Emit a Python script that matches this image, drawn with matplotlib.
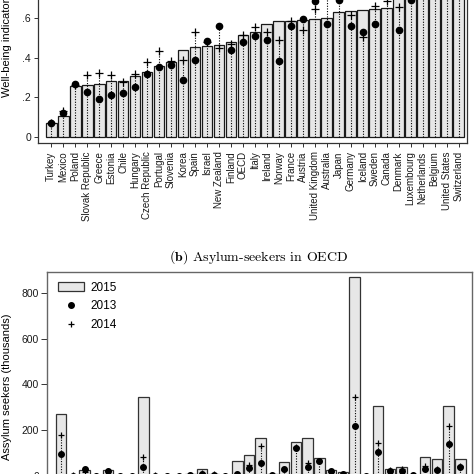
import numpy as np
import matplotlib
matplotlib.use("Agg")
import matplotlib.pyplot as plt

plt.rcParams['font.family'] = ['Liberation Sans', 'DejaVu Sans']
plt.rcParams['mathtext.fontset'] = 'cm'

countries = ["Turkey", "Mexico", "Poland", "Slovak Republic", "Greece", "Estonia",
             "Chile", "Hungary", "Czech Republic", "Portugal", "Slovenia", "Korea",
             "Spain", "Israel", "New Zealand", "Finland", "OECD", "Italy", "Ireland",
             "Norway", "France", "Austria", "United Kingdom", "Australia", "Japan",
             "Germany", "Iceland", "Sweden", "Canada", "Denmark", "Luxembourg",
             "Netherlands", "Belgium", "United States", "Switzerland"]

# (a) well-being indicator
wb_2015 = [0.069, 0.104, 0.257, 0.262, 0.268, 0.280, 0.282, 0.306, 0.326, 0.356,
           0.377, 0.439, 0.453, 0.459, 0.466, 0.481, 0.513, 0.528, 0.569, 0.586,
           0.588, 0.589, 0.597, 0.603, 0.633, 0.638, 0.641, 0.645, 0.650, 0.70,
           0.72, 0.74, 0.76, 0.80, 0.85]
wb_2013 = [0.070, 0.118, 0.265, 0.226, 0.191, 0.211, 0.223, 0.250, 0.316, 0.353,
           0.365, 0.286, 0.387, 0.486, 0.562, 0.441, 0.479, 0.511, 0.491, 0.383,
           0.562, 0.596, 0.689, 0.571, 0.690, 0.560, 0.528, 0.569, 0.74, 0.540,
           0.690, 0.76, 0.75, 0.78, 0.86]
wb_2014 = [0.068, 0.128, 0.262, 0.312, 0.322, 0.311, 0.277, 0.317, 0.377, 0.434,
           0.385, 0.388, 0.529, 0.480, 0.447, 0.471, 0.516, 0.554, 0.528, 0.491,
           0.587, 0.539, 0.647, 0.72, 0.73, 0.615, 0.506, 0.660, 0.689, 0.655,
           0.73, 0.75, 0.77, 0.79, 0.84]

# (b) asylum seekers, thousands
asy_2015 = [268, 3.5, 25, 0.5, 24, 0.5, 0.3, 346, 2.5, 1.8, 0.5, 7, 28, 6, 0.8,
            65, 93, 164, 6.6, 60, 146, 165, 78, 25, 15, 870, 0.7, 305, 30, 37,
            5, 83, 74, 305, 72]
asy_2013 = [94, 1, 31, 0.4, 19, 0.2, 0.3, 37, 1, 0.5, 0.3, 3, 9, 4, 0.6,
            6.5, 36, 54, 1.9, 28, 123, 40, 63, 22, 6, 219, 0.3, 105, 21, 20,
            2, 28, 27, 138, 40]
asy_2014 = [178, 2, 16, 0.6, 19, 0.3, 0.4, 81, 2, 0.9, 0.7, 5, 12, 6, 0.6,
            7.5, 48, 130, 2.9, 24, 126, 57, 66, 18, 10, 343, 0.35, 145, 27, 30,
            2.3, 43, 28, 219, 44]

W = H = 474.0
fig = plt.figure(figsize=(4.74, 4.74), dpi=100)


def px_axes(left, right, top, bottom):
    # pixel box (from top-left) -> figure fraction
    return fig.add_axes([left / W, (H - bottom) / H, (right - left) / W, (bottom - top) / H])


def draw_panel(ax, bars, dots, plus, ms_dot, ms_plus, edge):
    x = np.arange(len(bars))
    b = ax.bar(x, bars, width=0.9, color='#e7e7e7', edgecolor=edge, linewidth=0.9, zorder=1)
    top = np.maximum(np.array(dots), np.array(plus))
    ax.vlines(x, 0, top, colors='k', linewidth=0.8, linestyles=(0, (1, 1.4)), zorder=2)
    d, = ax.plot(x, dots, 'o', color='k', ms=ms_dot, zorder=3)
    p, = ax.plot(x, plus, '+', color='k', ms=ms_plus, mew=0.9, zorder=3)
    ax.tick_params(direction='out', width=0.7, colors='#333333',
                   labelcolor='#1a1a1a', labelsize=7.5, pad=2)
    return x, b, d, p


# top panel
ax1 = px_axes(38, 467, -53, 143)
x, _, _, _ = draw_panel(ax1, wb_2015, wb_2013, wb_2014, 4.5, 6, '#1a1a1a')
for s in ax1.spines.values():
    s.set_color('#333333')
    s.set_linewidth(0.9)
ax1.set_xlim(-1.1, 34.7)
ax1.set_ylim(-0.032, 0.96)
ax1.set_yticks([0, 0.2, 0.4, 0.6, 0.8])
ax1.set_yticklabels(['0', '.2', '.4', '.6', '.8'])
ax1.set_xticks(x)
ax1.set_xticklabels(countries, rotation=90, fontsize=7)
ax1.tick_params(length=3)
ax1.tick_params(axis='x', pad=3)

fig.text(7.5 / W, (H - 97) / H, 'Well-being indicator', rotation=90,
         ha='center', va='bottom', fontsize=8)

# bottom panel (x labels fall below the visible area)
ax2 = px_axes(47.3, 472, 272, 482)
x2, b2, d2, p2 = draw_panel(ax2, asy_2015, asy_2013, asy_2014, 4, 5, '#333333')
for s in ax2.spines.values():
    s.set_color('#666666')
    s.set_linewidth(1.0)
ax2.tick_params(length=4)
ax2.set_xlim(-1.18, 35.0)
ax2.set_ylim(-27, 890.7)
ax2.set_yticks([0, 200, 400, 600, 800])
ax2.set_xticks(x2)
ax2.set_xticklabels([])

ax2.legend([b2, d2, p2], ['2015', '2013', '2014'], loc='upper left', frameon=False,
           fontsize=8.5, handlelength=2.2, handleheight=0.8, handletextpad=0.5,
           labelspacing=0.55, borderaxespad=0.0, bbox_to_anchor=(0.015, 0.975))

fig.text(7.5 / W, (H - 386.7) / H, 'Assylum seekers (thousands)', rotation=90,
         ha='center', va='center', fontsize=8)

fig.text(258.5 / W, (H - 257) / H, r'$\mathbf{(b)}$ Asylum-seekers in OECD',
         ha='center', va='center', fontsize=10, fontfamily='cmr10')

fig.savefig('out.png', dpi=100)
